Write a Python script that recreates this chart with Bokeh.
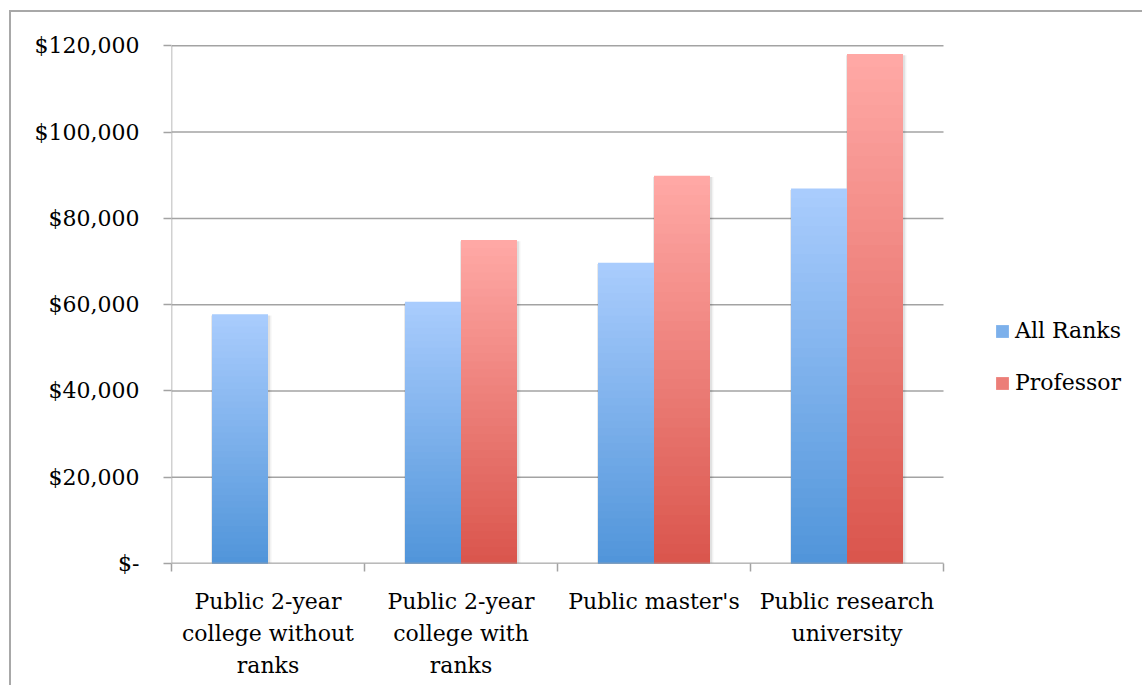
from bokeh.plotting import figure
from bokeh.models import Range1d, FixedTicker, ColumnDataSource, Legend, LegendItem
from bokeh.embed import file_html
from bokeh.resources import INLINE

# ---- data ----
categories = ["Public 2-year\ncollege without\nranks",
              "Public 2-year\ncollege with\nranks",
              "Public master's",
              "Public research\nuniversity"]
series_names = ["All Ranks", "Professor"]
all_ranks = [57800, 60700, 69700, 86900]
professor = [None, 75000, 89900, 118100]
y_ticks = [0, 20000, 40000, 60000, 80000, 100000, 120000]
y_tick_labels = ["$-", "$20,000", "$40,000", "$60,000", "$80,000", "$100,000", "$120,000"]

# ---- style ----
FONT = "DejaVu Serif"
FS = "22px"
GRAY = "#a3a3a3"
blue_top, blue_bot = (169, 204, 253), (79, 148, 217)
red_top, red_bot = (255, 168, 165), (217, 84, 75)
BAR_W = 0.29
N = 40

# layout (pixels)
FIG_W, FIG_H = 1133, 675
LEFT, BOTTOM = 160, 124
PLOT_W, PLOT_H = 772, 518          # size of the category area / 0..120000 span
Y_TOP = 121000                     # small headroom so the top grid line is not clipped
FRAME_H = round(PLOT_H * Y_TOP / y_ticks[-1])
TOP = FIG_H - BOTTOM - FRAME_H
FRAME_W = FIG_W - LEFT             # frame runs to the right edge (legend lives inside it)
n_cat = len(categories)
x_end = n_cat * FRAME_W / PLOT_W


def lerp(c0, c1, t):
    return "#%02x%02x%02x" % tuple(int(round(a + (b - a) * t)) for a, b in zip(c0, c1))


def bar_edges(k, side):
    c = k + 0.5
    return (c - BAR_W, c) if side < 0 else (c, c + BAR_W)


def gradient_source(values, side, top_c, bot_c):
    d = dict(left=[], right=[], top=[], bottom=[], color=[])
    for i in range(N, 0, -1):
        f = i / N
        for k, v in enumerate(values):
            if v is None:
                continue
            l, r = bar_edges(k, side)
            d["left"].append(l)
            d["right"].append(r)
            d["bottom"].append(0)
            d["top"].append(v * f)
            d["color"].append(lerp(bot_c, top_c, f))
    return ColumnDataSource(d)


p = figure(width=FIG_W, height=FIG_H,
           x_range=Range1d(0, x_end), y_range=Range1d(0, Y_TOP),
           output_backend="svg", toolbar_location=None,
           min_border_left=LEFT, min_border_right=0,
           min_border_top=TOP, min_border_bottom=BOTTOM,
           outline_line_color=None, background_fill_color="white",
           border_fill_color="white")
p.margin = (10, 0, 0, 9)
p.styles = {"border-top": "2px solid #a8a8a8", "border-left": "2px solid #a8a8a8"}

# grid lines only across the category area
p.xgrid.grid_line_color = None
p.ygrid.grid_line_color = None
p.segment(x0=[0] * len(y_ticks), x1=[n_cat] * len(y_ticks), y0=y_ticks, y1=y_ticks,
          line_color=GRAY, line_width=1.5)

# soft shadow approximated by slightly wider translucent quads
for vals, side in ((all_ranks, -1), (professor, 1)):
    for grow, a in ((0.018, 0.05), (0.010, 0.07)):
        d = dict(left=[], right=[], top=[])
        for k, v in enumerate(vals):
            if v is None:
                continue
            l, r = bar_edges(k, side)
            d["left"].append(l - grow * 0.3)
            d["right"].append(r + grow)
            d["top"].append(v - 300)
        p.quad(left="left", right="right", top="top", bottom=0,
               source=ColumnDataSource(d), fill_color="black", fill_alpha=a,
               line_color=None)

src_a = gradient_source(all_ranks, -1, blue_top, blue_bot)
src_p = gradient_source(professor, 1, red_top, red_bot)
r_a = p.quad(left="left", right="right", top="top", bottom="bottom", source=src_a,
             fill_color="color", line_color=None)
r_p = p.quad(left="left", right="right", top="top", bottom="bottom", source=src_p,
             fill_color="color", line_color=None)

# baseline drawn over the bars
p.segment(x0=[0], x1=[n_cat], y0=[0], y1=[0], line_color=GRAY, line_width=1.5)

# y axis (line stops at the top tick)
ya = p.yaxis[0]
ya.ticker = FixedTicker(ticks=y_ticks)
ya.major_label_overrides = {t: s for t, s in zip(y_ticks, y_tick_labels)}
ya.axis_line_color = None
ya.major_tick_line_color = GRAY
ya.major_tick_line_width = 1.5
ya.major_tick_out = 8
ya.major_tick_in = 0
ya.minor_tick_line_color = None
ya.major_label_standoff = 24
ya.major_label_text_font = FONT
ya.major_label_text_font_size = FS
ya.major_label_text_color = "black"
p.segment(x0=[0], x1=[0], y0=[0], y1=[y_ticks[-1]], line_color=GRAY, line_width=1.5)

# x axis: labels at centres, ticks at boundaries (minor ticks)
xa = p.xaxis[0]
centers = [k + 0.5 for k in range(n_cat)]
bounds = [k for k in range(n_cat + 1)]
xa.ticker = FixedTicker(ticks=centers, minor_ticks=bounds)
xa.major_label_overrides = {c: s for c, s in zip(centers, categories)}
xa.axis_line_color = None
xa.major_tick_line_color = None
xa.major_tick_out = 0
xa.major_tick_in = 0
xa.minor_tick_line_color = GRAY
xa.minor_tick_line_width = 1.5
xa.minor_tick_out = 8
xa.minor_tick_in = 0
xa.major_label_standoff = 17
xa.major_label_text_font = FONT
xa.major_label_text_font_size = FS
xa.major_label_text_color = "black"
xa.major_label_text_line_height = 1.29

# legend (inside the frame, right of the category area)
mid = N // 2
idx_a = mid * sum(v is not None for v in all_ranks)
idx_p = mid * sum(v is not None for v in professor)
legend = Legend(items=[LegendItem(label=series_names[0], renderers=[r_a], index=idx_a),
                       LegendItem(label=series_names[1], renderers=[r_p], index=idx_p)],
                location=(823, 168), orientation="vertical",
                border_line_color=None, background_fill_alpha=0,
                padding=0, margin=0, spacing=27,
                glyph_width=16, glyph_height=16, label_standoff=5,
                label_text_font=FONT, label_text_font_size=FS,
                label_text_color="black")
p.add_layout(legend, "center")

open("out.html", "w").write(file_html(p, INLINE))
